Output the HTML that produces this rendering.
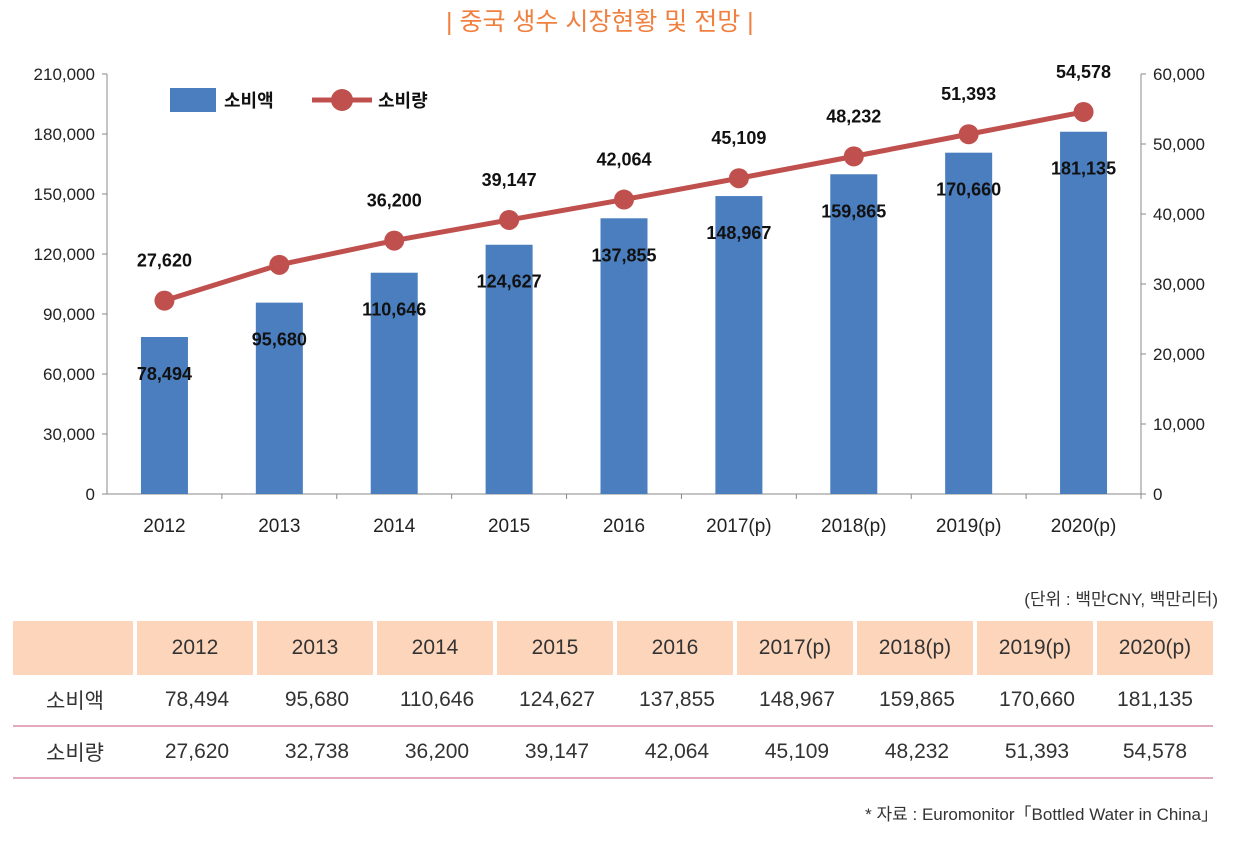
<!DOCTYPE html>
<html><head><meta charset="utf-8"><style>
body{margin:0;width:1234px;height:843px;background:#fff;font-family:"Liberation Sans Narrow","Liberation Sans","Noto Sans CJK KR",sans-serif;overflow:hidden;position:relative}
.t{position:absolute}
table{position:absolute;left:13px;top:621px;border-collapse:separate;border-spacing:0;font-size:21px;color:#333}
td{text-align:center;padding:0}
tr.h td{background:#fdd5bb;height:54px;border-right:4px solid #fff}
tr.r td{height:50px;border-bottom:2px solid #e3a9bf}
</style></head><body>
<div class="t" style="left:446px;top:2px;font-size:25px;color:#f08040;font-family:'Liberation Sans','Noto Sans CJK KR',sans-serif">| 중국 생수 시장현황 및 전망 |</div>
<svg class="t" style="left:0;top:0" width="1234" height="560">
<g id="g" font-family="Liberation Sans Narrow, Liberation Sans, Noto Sans CJK KR, sans-serif"></g>
</svg>
<div class="t" style="right:16px;top:585px;font-size:17px;color:#333;font-family:'Liberation Sans','Noto Sans CJK KR',sans-serif">(단위 : 백만CNY, 백만리터)</div>
<table>
<tr class="h"><td style="width:120px"></td><td style="width:116px">2012</td><td style="width:116px">2013</td><td style="width:116px">2014</td><td style="width:116px">2015</td><td style="width:116px">2016</td><td style="width:116px">2017(p)</td><td style="width:116px">2018(p)</td><td style="width:116px">2019(p)</td><td style="width:116px;border-right:0">2020(p)</td></tr>
<tr class="r"><td style="font-family:'Noto Sans CJK KR',sans-serif">소비액</td><td>78,494</td><td>95,680</td><td>110,646</td><td>124,627</td><td>137,855</td><td>148,967</td><td>159,865</td><td>170,660</td><td>181,135</td></tr>
<tr class="r"><td style="font-family:'Noto Sans CJK KR',sans-serif">소비량</td><td>27,620</td><td>32,738</td><td>36,200</td><td>39,147</td><td>42,064</td><td>45,109</td><td>48,232</td><td>51,393</td><td>54,578</td></tr>
</table>
<div class="t" style="right:16px;top:800px;font-size:17px;color:#333;font-family:'Liberation Sans','Noto Sans CJK KR',sans-serif">* 자료 : Euromonitor「Bottled Water in China」</div>
<script>
const categories=["2012","2013","2014","2015","2016","2017(p)","2018(p)","2019(p)","2020(p)"];
const amounts=[78494,95680,110646,124627,137855,148967,159865,170660,181135];
const volumes=[27620,32738,36200,39147,42064,45109,48232,51393,54578];
const leftTicks=[0,30000,60000,90000,120000,150000,180000,210000];
const rightTicks=[0,10000,20000,30000,40000,50000,60000];
const NS="http://www.w3.org/2000/svg",g=document.getElementById('g');
const X0=107,X1=1141,Y0=494,Y1=74,bw=(X1-X0)/categories.length;
const yL=v=>Y0-(v/210000)*(Y0-Y1), yR=v=>Y0-(v/60000)*(Y0-Y1), xc=i=>X0+bw*(i+0.5);
const fmt=v=>v.toLocaleString('en-US');
function el(t,a,txt){const e=document.createElementNS(NS,t);for(const k in a)e.setAttribute(k,a[k]);if(txt!=null)e.textContent=txt;g.appendChild(e);return e;}
let e;
e=el('line',{x1:X0,y1:Y1,x2:X0,y2:Y0,stroke:'#888'});
e=el('line',{x1:X1,y1:Y1,x2:X1,y2:Y0,stroke:'#888'});
e=el('line',{x1:X0,y1:Y0,x2:X1,y2:Y0,stroke:'#888'});
leftTicks.forEach(v=>{el('line',{x1:X0-5,y1:yL(v),x2:X0,y2:yL(v),stroke:'#888'});
e=el('text',{x:X0-12,y:yL(v)+6,'text-anchor':'end','font-size':17,fill:'#222'},fmt(v));});
rightTicks.forEach(v=>{el('line',{x1:X1,y1:yR(v),x2:X1+5,y2:yR(v),stroke:'#888'});
e=el('text',{x:X1+12,y:yR(v)+6,'font-size':17,fill:'#222'},fmt(v));});
categories.forEach((c,i)=>{el('line',{x1:X0+bw*(i+1),y1:Y0,x2:X0+bw*(i+1),y2:Y0+5,stroke:'#888'});
e=el('text',{x:xc(i),y:Y0+38,'text-anchor':'middle','font-size':19,fill:'#222'},c);});
amounts.forEach((v,i)=>{e=el('rect',{x:xc(i)-23.5,y:yL(v),width:47,height:Y0-yL(v),fill:'#4a7ebf'});});
e=el('polyline',{points:volumes.map((v,i)=>xc(i)+','+yR(v)).join(' '),fill:'none',stroke:'#c0504d','stroke-width':5});
volumes.forEach((v,i)=>{e=el('circle',{cx:xc(i),cy:yR(v),r:10,fill:'#c0504d'});});
amounts.forEach((v,i)=>{e=el('text',{x:xc(i),y:yL(v)+43,'text-anchor':'middle','font-size':18,'font-weight':'bold',fill:'#111'},fmt(v));});
volumes.forEach((v,i)=>{if(i===1)return;e=el('text',{x:xc(i),y:yR(v)-34,'text-anchor':'middle','font-size':18,'font-weight':'bold',fill:'#111'},fmt(v));});
e=el('rect',{x:170,y:88,width:46,height:24,fill:'#4a7ebf'});
e=el('text',{x:224,y:107,'font-size':18,'font-weight':'bold',fill:'#111','font-family':'Noto Sans CJK KR,sans-serif'},'소비액');
el('line',{x1:312,y1:100,x2:372,y2:100,stroke:'#c0504d','stroke-width':5});
e=el('circle',{cx:342,cy:100,r:11,fill:'#c0504d'});
e=el('text',{x:378,y:107,'font-size':18,'font-weight':'bold',fill:'#111','font-family':'Noto Sans CJK KR,sans-serif'},'소비량');
</script>
</body></html>
